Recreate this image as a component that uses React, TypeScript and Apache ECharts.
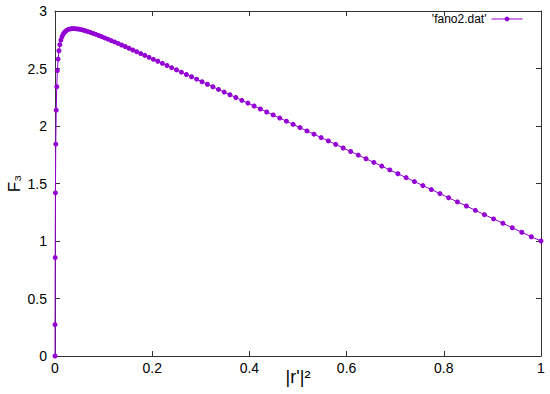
import React, { useEffect, useRef } from "react";
import * as echarts from "echarts";

// |r'|^2 values (x)
const xValues: number[] = [
  0, 0.0001, 0.0004, 0.0009, 0.0016, 0.0025, 0.0036, 0.0049, 0.0064, 0.0081,
  0.01, 0.0121, 0.0144, 0.0169, 0.0196, 0.0225, 0.0256, 0.0289, 0.0324, 0.0361,
  0.04, 0.0441, 0.0484, 0.0529, 0.0576, 0.0625, 0.0676, 0.0729, 0.0784, 0.0841,
  0.09, 0.0961, 0.1024, 0.1089, 0.1156, 0.1225, 0.1296, 0.1369, 0.1444, 0.1521,
  0.16, 0.1681, 0.1764, 0.1849, 0.1936, 0.2025, 0.2116, 0.2209, 0.2304, 0.2401,
  0.25, 0.2601, 0.2704, 0.2809, 0.2916, 0.3025, 0.3136, 0.3249, 0.3364, 0.3481,
  0.36, 0.3721, 0.3844, 0.3969, 0.4096, 0.4225, 0.4356, 0.4489, 0.4624, 0.4761,
  0.49, 0.5041, 0.5184, 0.5329, 0.5476, 0.5625, 0.5776, 0.5929, 0.6084, 0.6241,
  0.64, 0.6561, 0.6724, 0.6889, 0.7056, 0.7225, 0.7396, 0.7569, 0.7744, 0.7921,
  0.81, 0.8281, 0.8464, 0.8649, 0.8836, 0.9025, 0.9216, 0.9409, 0.9604, 0.9801,
  1,
];

// F3 values (y)
const f3Values: number[] = [
  0, 0.273, 0.856, 1.419, 1.843, 2.138, 2.341, 2.482, 2.582, 2.654,
  2.707, 2.747, 2.776, 2.799, 2.815, 2.827, 2.836, 2.842, 2.845, 2.847,
  2.847, 2.845, 2.843, 2.839, 2.834, 2.828, 2.821, 2.814, 2.805, 2.797,
  2.787, 2.777, 2.766, 2.755, 2.743, 2.731, 2.718, 2.704, 2.691, 2.676,
  2.661, 2.646, 2.63, 2.614, 2.597, 2.58, 2.563, 2.545, 2.526, 2.507,
  2.488, 2.468, 2.448, 2.428, 2.407, 2.385, 2.363, 2.341, 2.318, 2.295,
  2.272, 2.248, 2.223, 2.199, 2.174, 2.148, 2.122, 2.096, 2.069, 2.042,
  2.014, 1.986, 1.957, 1.929, 1.899, 1.87, 1.84, 1.809, 1.778, 1.747,
  1.715, 1.683, 1.651, 1.618, 1.585, 1.551, 1.517, 1.482, 1.447, 1.412,
  1.376, 1.34, 1.304, 1.267, 1.229, 1.192, 1.154, 1.115, 1.076, 1.037,
  1.0,
];

const seriesName = "'fano2.dat'";
const xTicks = { min: 0, max: 1, interval: 0.2 };
const yTicks = { min: 0, max: 3, interval: 0.5 };

const FONT = "Liberation Sans";
const AXIS_COLOR = "#333333";
const LINE_COLOR = "#9400d3";

export default function App() {
  const ref = useRef<HTMLDivElement>(null);

  useEffect(() => {
    document.body.style.margin = "0";
    if (!ref.current) return;
    const chart = echarts.init(ref.current, undefined, { renderer: "svg" });
    const data = xValues.map((x, i) => [x, f3Values[i]]);

    const baseAxis = {
      type: "value" as const,
      axisLine: { show: true, onZero: false, lineStyle: { color: AXIS_COLOR, width: 1 } },
      axisTick: { show: true, inside: true, length: 5, lineStyle: { color: AXIS_COLOR } },
      splitLine: { show: false },
    };

    chart.setOption({
      animation: false,
      backgroundColor: "#ffffff",
      textStyle: { fontFamily: FONT },
      grid: {
        left: 55,
        right: 9,
        top: 11,
        bottom: 38,
        containLabel: false,
        outerBoundsMode: "none",
      },
      legend: {
        data: [{ name: seriesName }],
        right: 22,
        top: 8,
        align: "right",
        itemWidth: 31,
        itemHeight: 6,
        itemGap: 5,
        lineStyle: { width: 1 },
        textStyle: { fontFamily: FONT, fontSize: 12, color: "#000" },
      },
      xAxis: [
        {
          ...baseAxis,
          ...xTicks,
          position: "bottom",
          name: "|r'|²",
          nameLocation: "middle",
          nameGap: 12,
          nameMoveOverlap: false,
          nameTextStyle: { fontFamily: FONT, fontSize: 18, color: "#000" },
          axisLabel: { margin: 5, fontSize: 14, color: "#000", fontFamily: FONT },
        },
        {
          ...baseAxis,
          ...xTicks,
          position: "top",
          axisLabel: { show: false },
        },
      ],
      yAxis: [
        {
          ...baseAxis,
          ...yTicks,
          position: "left",
          name: "F₃",
          nameLocation: "middle",
          nameRotate: 90,
          nameGap: 32,
          nameMoveOverlap: false,
          nameTextStyle: { fontFamily: FONT, fontSize: 17, color: "#000" },
          axisLabel: { margin: 8, fontSize: 14, color: "#000", fontFamily: FONT },
        },
        {
          ...baseAxis,
          ...yTicks,
          position: "right",
          axisLabel: { show: false },
        },
      ],
      series: [
        {
          name: seriesName,
          type: "line",
          data,
          clip: false,
          symbol: "circle",
          symbolSize: 5,
          showSymbol: true,
          lineStyle: { color: LINE_COLOR, width: 1 },
          itemStyle: { color: LINE_COLOR },
        },
      ],
    });

    return () => chart.dispose();
  }, []);

  return (
    <div
      ref={ref}
      style={{ position: "fixed", left: 0, top: 0, width: 550, height: 394 }}
    />
  );
}
